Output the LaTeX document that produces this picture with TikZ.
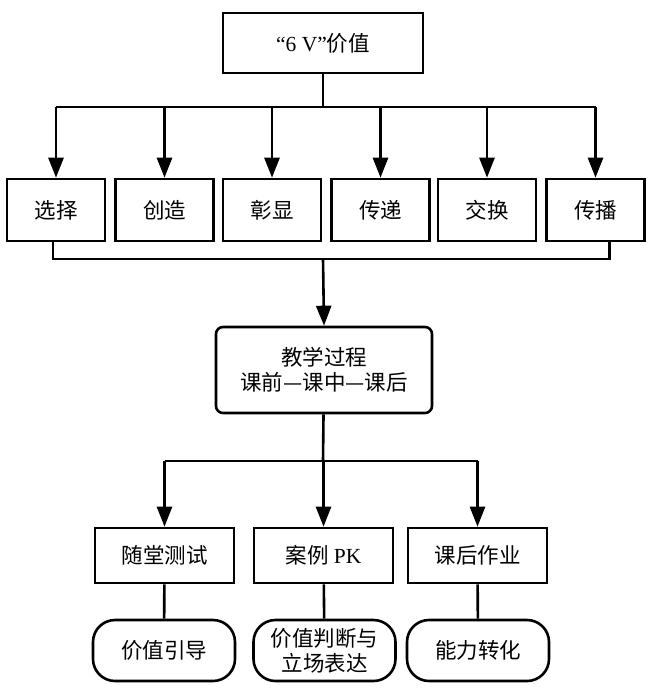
\documentclass[tikz,border=0pt]{standalone}
\usepackage{fontspec}
\setmainfont{Liberation Serif}
\newfontfamily\cjk{Noto Sans CJK SC}
\usetikzlibrary{arrows.meta}

\tikzset{
    box/.style={draw, line width=2.6pt, minimum width=#1, inner sep=0pt, align=center,
        font=\fontsize{21.5}{25}\selectfont},
    box/.default={98pt},
    link/.style={line width=2.6pt},
    arr/.style={line width=2.6pt, -{Triangle[length=20pt 0 0,width=15pt 0 0]}}
}

\begin{document}
\begin{tikzpicture}[x=1pt, y=-1pt]
        \useasboundingbox (0,0) rectangle (648,690);

        \node[box=200pt, minimum height=60pt] (value) at (323,43) {“6 V”{\cjk 价值}};

        \node[box, minimum height=62pt] (s1) at (56,210) {\cjk 选择};
        \node[box, minimum height=62pt] (s2) at (164.5,210) {\cjk 创造};
        \node[box, minimum height=62pt] (s3) at (272,210) {\cjk 彰显};
        \node[box, minimum height=62pt] (s4) at (380.5,210) {\cjk 传递};
        \node[box, minimum height=62pt] (s5) at (487,210) {\cjk 交换};
        \node[box, minimum height=62pt] (s6) at (595.5,210) {\cjk 传播};

        \node[box=216pt, minimum height=86pt, rounded corners=7pt] (proc) at (324,370)
            {\cjk 教学过程\\\cjk 课前—课中—课后};

        \node[box=139pt, minimum height=55pt] (t1) at (164.5,555.5) {\cjk 随堂测试};
        \node[box=139pt, minimum height=55pt] (t2) at (323.5,555.5) {{\cjk 案例} PK};
        \node[box=139pt, minimum height=55pt] (t3) at (477.5,555.5) {\cjk 课后作业};

        \node[box=142pt, minimum height=61pt, rounded corners=22pt] (r1) at (164,650.5) {\cjk 价值引导};
        \node[box=142pt, minimum height=61pt, rounded corners=22pt] (r2) at (324.5,650.5)
            {\cjk 价值判断与\\\cjk 立场表达};
        \node[box=142pt, minimum height=61pt, rounded corners=22pt] (r3) at (478,650.5) {\cjk 能力转化};

        \coordinate (bus1) at (323,107);
        \draw[link] (value) -- (bus1);
        \draw[link] (bus1 -| s1) -- (bus1 -| s6);
        \foreach \n in {s1,s2,s3,s4,s5,s6}
            \draw[arr] (bus1 -| \n) -- (\n.north);

        \coordinate (bus2) at (323,259);
        \draw[link] ([xshift=-3pt]s1.south) |- (bus2) -| ([xshift=14pt]s6.south);
        \draw[arr] (bus2) -- (proc.north);

        \coordinate (bus3) at (323,461);
        \draw[link] (proc) -- (bus3);
        \draw[link] (bus3 -| t1) -- (bus3 -| t3);
        \foreach \n in {t1,t2,t3}
            \draw[arr] (bus3 -| \n) -- (\n.north);

        \draw[link] (t1) -- (r1);
        \draw[link] (t2) -- (r2);
        \draw[link] (t3) -- (r3);
    \end{tikzpicture}
\end{document}
